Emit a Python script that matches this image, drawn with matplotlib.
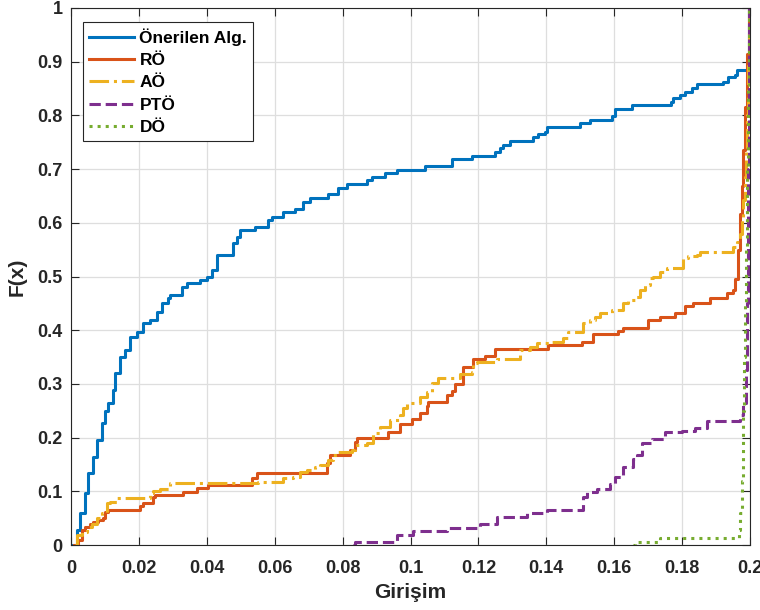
import matplotlib
matplotlib.use('Agg')
import matplotlib.pyplot as plt
from matplotlib.ticker import FuncFormatter

# ECDF step points (x, F(x))
onerilen_x = [0, 0.0017, 0.00265, 0.0041, 0.005, 0.0065, 0.0077, 0.0091, 0.01, 0.0109,
              0.0124, 0.013, 0.0144, 0.0159, 0.0174, 0.0194, 0.0212, 0.0233, 0.0253, 0.0268,
              0.0286, 0.0292, 0.0327, 0.0342, 0.038, 0.0401, 0.0415, 0.043, 0.0477, 0.0489,
              0.0498, 0.0542, 0.058, 0.0592, 0.0624, 0.066, 0.0683, 0.0704, 0.0757, 0.0786,
              0.0813, 0.0872, 0.0887, 0.0925, 0.096, 0.1043, 0.1122, 0.1181, 0.1249, 0.1264,
              0.1273, 0.1293, 0.1361, 0.1376, 0.1396, 0.1402, 0.1499, 0.1529, 0.1594, 0.1602,
              0.1652, 0.1767, 0.1773, 0.1794, 0.1808, 0.1829, 0.1844, 0.192, 0.1935, 0.1956,
              0.1962, 0.1997, 0.2]
onerilen_y = [0, 0.028, 0.06, 0.097, 0.134, 0.164, 0.196, 0.227, 0.25, 0.264,
              0.289, 0.32, 0.35, 0.363, 0.388, 0.397, 0.413, 0.419, 0.434, 0.45,
              0.46, 0.466, 0.48, 0.488, 0.493, 0.5, 0.512, 0.54, 0.562, 0.574,
              0.587, 0.592, 0.605, 0.611, 0.62, 0.626, 0.639, 0.646, 0.653, 0.665,
              0.672, 0.68, 0.686, 0.693, 0.698, 0.706, 0.719, 0.724, 0.732, 0.739,
              0.745, 0.752, 0.76, 0.765, 0.769, 0.778, 0.785, 0.791, 0.799, 0.812,
              0.819, 0.825, 0.832, 0.838, 0.844, 0.851, 0.858, 0.862, 0.871, 0.875,
              0.884, 1.0, 1.0]

ro_x = [0.0009, 0.0021, 0.0032, 0.0041, 0.0056, 0.0065, 0.008, 0.0094, 0.01, 0.0109,
        0.0203, 0.0212, 0.0242, 0.0247, 0.033, 0.0371, 0.0404, 0.0533, 0.0548, 0.0754,
        0.0763, 0.0822, 0.0837, 0.0842, 0.0934, 0.0969, 0.1004, 0.1028, 0.1049, 0.1052,
        0.1108, 0.1122, 0.1131, 0.1155, 0.1184, 0.1219, 0.1249, 0.1405, 0.1505, 0.1538,
        0.1611, 0.1626, 0.17, 0.1735, 0.1779, 0.1808, 0.1832, 0.1882, 0.1932, 0.195,
        0.1956, 0.1964, 0.197, 0.1976, 0.1979, 0.1985, 0.1991, 0.1997, 0.2]
ro_y = [0, 0.009, 0.028, 0.034, 0.04, 0.043, 0.047, 0.05, 0.061, 0.066,
        0.073, 0.078, 0.09, 0.094, 0.099, 0.106, 0.112, 0.125, 0.134, 0.152,
        0.167, 0.177, 0.192, 0.2, 0.21, 0.225, 0.234, 0.245, 0.259, 0.266,
        0.279, 0.287, 0.3, 0.332, 0.346, 0.352, 0.365, 0.372, 0.378, 0.393,
        0.398, 0.405, 0.419, 0.425, 0.432, 0.445, 0.451, 0.46, 0.47, 0.475,
        0.496, 0.55, 0.616, 0.669, 0.736, 0.816, 0.915, 1.0, 1.0]

ao_x = [0.0012, 0.0018, 0.0032, 0.0047, 0.0062, 0.0077, 0.0091, 0.0106, 0.0115, 0.0135,
        0.0233, 0.0242, 0.0262, 0.0292, 0.0551, 0.0624, 0.0654, 0.0675, 0.0695, 0.0719,
        0.0733, 0.0757, 0.0772, 0.0786, 0.0828, 0.0837, 0.0872, 0.089, 0.091, 0.094,
        0.0969, 0.0978, 0.099, 0.1028, 0.1049, 0.1063, 0.1081, 0.1146, 0.1181, 0.1184,
        0.1196, 0.1255, 0.1323, 0.1352, 0.1373, 0.1411, 0.1449, 0.1464, 0.1508, 0.1529,
        0.1543, 0.1558, 0.1594, 0.1626, 0.1641, 0.1661, 0.1676, 0.1691, 0.1705, 0.1714,
        0.1735, 0.1756, 0.1803, 0.1817, 0.1844, 0.1853, 0.195, 0.1962, 0.197, 0.1976,
        0.1979, 0.1985, 0.1988, 0.1991, 0.1994, 0.1997, 0.2]
ao_y = [0, 0.019, 0.025, 0.034, 0.04, 0.05, 0.06, 0.078, 0.08, 0.087,
        0.096, 0.1, 0.105, 0.115, 0.118, 0.125, 0.127, 0.136, 0.14, 0.146,
        0.149, 0.158, 0.168, 0.173, 0.177, 0.186, 0.19, 0.208, 0.22, 0.233,
        0.242, 0.255, 0.265, 0.276, 0.285, 0.301, 0.311, 0.318, 0.322, 0.339,
        0.341, 0.346, 0.363, 0.369, 0.376, 0.378, 0.385, 0.397, 0.413, 0.419,
        0.425, 0.432, 0.438, 0.45, 0.456, 0.462, 0.475, 0.484, 0.497, 0.5,
        0.509, 0.516, 0.534, 0.538, 0.54, 0.546, 0.555, 0.564, 0.58, 0.61,
        0.642, 0.685, 0.735, 0.8, 0.9, 1.0, 1.0]

pto_x = [0.0831, 0.0837, 0.096, 0.1007, 0.1108, 0.1205, 0.1255, 0.1343, 0.1402, 0.1508,
         0.152, 0.1549, 0.1588, 0.1602, 0.1626, 0.1655, 0.1667, 0.1682, 0.1711, 0.175,
         0.18, 0.1838, 0.1873, 0.197, 0.1979, 0.1988, 0.1991, 0.1994, 0.1997, 0.2]
pto_y = [0, 0.006, 0.019, 0.026, 0.032, 0.04, 0.052, 0.059, 0.066, 0.089,
         0.099, 0.105, 0.114, 0.127, 0.145, 0.16, 0.168, 0.19, 0.197, 0.21,
         0.212, 0.218, 0.231, 0.242, 0.264, 0.326, 0.45, 0.7, 1.0, 1.0]

do_x = [0.1655, 0.1661, 0.1735, 0.1967, 0.197, 0.1976, 0.1979, 0.1982, 0.1985, 0.1988,
        0.1991, 0.1994, 0.1997, 0.2]
do_y = [0, 0.006, 0.013, 0.028, 0.06, 0.12, 0.25, 0.35, 0.45, 0.55,
        0.7, 0.85, 1.0, 1.0]

labels = ['Önerilen Alg.', 'RÖ', 'AÖ', 'PTÖ', 'DÖ']
colors = ['#0072BD', '#D95319', '#EDB120', '#7E2F8E', '#77AC30']
styles = ['-', '-', '-.', '--', ':']

plt.rcParams['font.family'] = ['Liberation Sans', 'DejaVu Sans']
plt.rcParams['font.weight'] = 'bold'

fig = plt.figure(figsize=(7.6, 6.1), dpi=100)
ax = fig.add_axes([71 / 760, 1 - 545 / 610, 679 / 760, 537 / 610])

series = [(onerilen_x, onerilen_y), (ro_x, ro_y), (ao_x, ao_y), (pto_x, pto_y), (do_x, do_y)]
for (xs, ys), lab, c, ls in zip(series, labels, colors, styles):
    ax.step(xs, ys, where='post', color=c, linestyle=ls, linewidth=2.2, label=lab)

ax.set_xlim(0, 0.2)
ax.set_ylim(0, 1)
ax.set_xticks([i * 0.02 for i in range(11)])
ax.set_yticks([i * 0.1 for i in range(11)])
fmt = FuncFormatter(lambda v, p: f'{round(v, 4):g}')
ax.xaxis.set_major_formatter(fmt)
ax.yaxis.set_major_formatter(fmt)

ax.grid(True, color='#dedede', linewidth=0.9)
ax.set_axisbelow(True)
ax.tick_params(direction='in', length=6, width=0.8, top=True, right=True,
               labelsize=13, colors='#262626')
ax.tick_params(axis='x', pad=11)
ax.tick_params(axis='y', pad=6)
for s in ax.spines.values():
    s.set_color('#262626')
    s.set_linewidth(0.8)

ax.set_xlabel('Girişim', fontsize=15, fontweight='bold', color='#262626', labelpad=4)
ax.set_ylabel('F(x)', fontsize=15, fontweight='bold', color='#262626', labelpad=8)

leg = ax.legend(loc='upper left', bbox_to_anchor=(0.0177, 0.974), borderaxespad=0,
                fontsize=12.5, handlelength=2.6, handletextpad=0.3, labelspacing=0.42,
                borderpad=0.35, fancybox=False, framealpha=1, edgecolor='#262626')
leg.get_frame().set_linewidth(0.8)
for t in leg.get_texts():
    t.set_fontweight('bold')

fig.savefig('out.png', dpi=100)
